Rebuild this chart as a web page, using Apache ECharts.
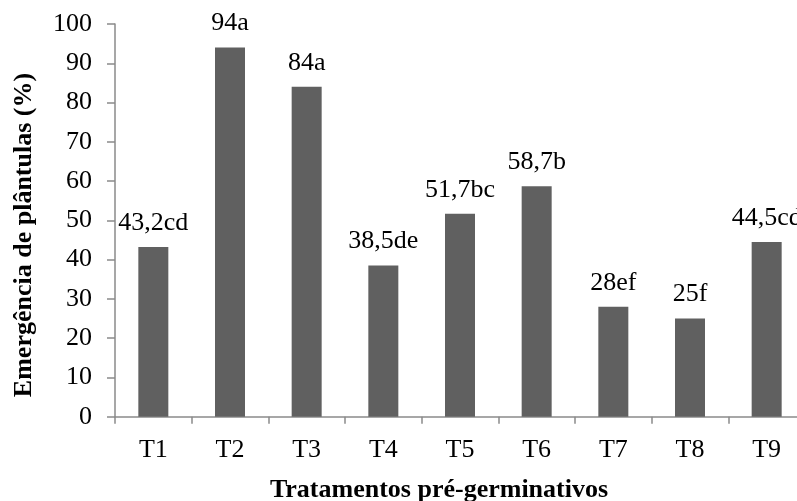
<!DOCTYPE html>
<html>
<head>
<meta charset="utf-8">
<script src="https://cdn.jsdelivr.net/npm/echarts@6/dist/echarts.min.js"></script>
<style>
  html, body { margin: 0; padding: 0; background: #fff; }
  #chart { width: 797px; height: 501px; }
</style>
</head>
<body>
<div id="chart"></div>
<script>
// Seedling emergence by pre-germination treatment
const categories = ['T1', 'T2', 'T3', 'T4', 'T5', 'T6', 'T7', 'T8', 'T9'];
const emergence = [43.2, 94, 84, 38.5, 51.7, 58.7, 28, 25, 44.5];
const groups = ['cd', 'a', 'a', 'de', 'bc', 'b', 'ef', 'f', 'cd'];
const yTicks = { min: 0, max: 100, interval: 10 };

const serif = '"Liberation Serif", "Times New Roman", serif';
const axisGray = '#8a8a8a';

const chart = echarts.init(document.getElementById('chart'), null, { renderer: 'canvas' });

chart.setOption({
  animation: false,
  backgroundColor: '#ffffff',
  // the plot runs slightly past the right edge of the canvas
  grid: {
    left: 115, top: 24, width: 690, height: 392.7,
    containLabel: false,
    outerBoundsMode: 'none'
  },
  xAxis: {
    type: 'category',
    data: categories,
    boundaryGap: true,
    axisLine: { show: true, lineStyle: { color: axisGray, width: 1.5 } },
    axisTick: { show: true, length: 7, alignWithLabel: false, lineStyle: { color: axisGray, width: 1.5 } },
    axisLabel: { color: '#000', fontFamily: serif, fontSize: 26, margin: 20 },
    splitLine: { show: false }
  },
  yAxis: {
    type: 'value',
    min: yTicks.min,
    max: yTicks.max,
    interval: yTicks.interval,
    axisLine: { show: true, lineStyle: { color: axisGray, width: 1.5 } },
    axisTick: { show: true, length: 8, lineStyle: { color: axisGray, width: 1.5 } },
    axisLabel: { color: '#000', fontFamily: serif, fontSize: 26, margin: 23 },
    splitLine: { show: false }
  },
  series: [{
    type: 'bar',
    data: emergence,
    barWidth: 30,
    itemStyle: { color: '#606060' },
    label: {
      show: true,
      position: 'top',
      distance: 11,
      color: '#000',
      fontFamily: serif,
      fontSize: 26,
      formatter: p => String(p.value).replace('.', ',') + groups[p.dataIndex]
    }
  }],
  graphic: [
    {
      type: 'text',
      x: 439, y: 490,
      style: {
        text: 'Tratamentos pré-germinativos',
        font: 'bold 26px ' + serif,
        fill: '#000',
        textAlign: 'center',
        textVerticalAlign: 'middle'
      }
    },
    {
      type: 'text',
      x: 24, y: 235,
      rotation: Math.PI / 2,
      style: {
        text: 'Emergência de plântulas (%)',
        font: 'bold 26px ' + serif,
        fill: '#000',
        textAlign: 'center',
        textVerticalAlign: 'middle'
      }
    }
  ]
});
</script>
</body>
</html>
